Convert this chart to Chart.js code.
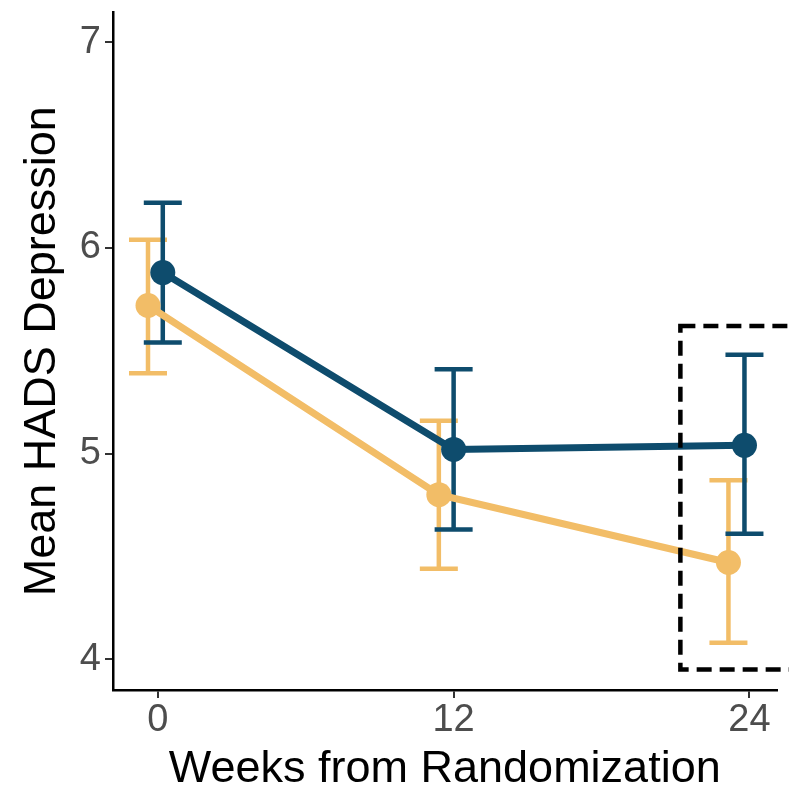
<!DOCTYPE html>
<html>
<head>
<meta charset="utf-8">
<script src="https://cdn.jsdelivr.net/npm/chart.js@4"></script>
<style>
  html, body { margin: 0; padding: 0; background: #fff; }
  #wrap { width: 789px; height: 790px; }
</style>
</head>
<body>
<div id="wrap"><canvas id="chart1" width="789" height="790"></canvas></div>
<script>
const weeks = [0, 12, 24];
const xTicks = [0, 12, 24];
const yTicks = [4, 5, 6, 7];

// group 1 (dark blue)
const blueDodge = [0.2, 0, -0.2];
const blueMean = [5.88, 5.02, 5.04];
const blueLow = [5.54, 4.63, 4.61];
const blueHigh = [6.22, 5.41, 5.48];

// group 2 (orange)
const orangeDodge = [-0.4, -0.6, -0.85];
const orangeMean = [5.72, 4.80, 4.47];
const orangeLow = [5.39, 4.44, 4.08];
const orangeHigh = [6.04, 5.16, 4.87];

// highlighted region around week 24
const boxX = [21.2, 27];
const boxY = [3.95, 5.62];

const blue = '#0e4c6d';
const orange = '#f2bd67';
const tickFont = { family: 'Liberation Sans', size: 38 };
const titleFont = { family: 'Liberation Sans', size: 45 };

function pts(dodge, mean) {
  return weeks.map((w, i) => ({ x: w + dodge[i], y: mean[i] }));
}

const errorBars = {
  id: 'errorBars',
  beforeDatasetsDraw(chart) {
    const { ctx, scales: { x, y } } = chart;
    const groups = [
      [orangeDodge, orangeLow, orangeHigh, orange],
      [blueDodge, blueLow, blueHigh, blue]
    ];
    ctx.save();
    ctx.lineWidth = 4.5;
    groups.forEach(([dodge, lo, hi, col]) => {
      ctx.strokeStyle = col;
      weeks.forEach((w, i) => {
        const px = x.getPixelForValue(w + dodge[i]);
        const y1 = y.getPixelForValue(lo[i]);
        const y2 = y.getPixelForValue(hi[i]);
        ctx.beginPath();
        ctx.moveTo(px, y1); ctx.lineTo(px, y2);
        ctx.moveTo(px - 19, y1); ctx.lineTo(px + 19, y1);
        ctx.moveTo(px - 19, y2); ctx.lineTo(px + 19, y2);
        ctx.stroke();
      });
    });
    ctx.restore();
  },
  afterDraw(chart) {
    const { ctx, scales: { x, y } } = chart;
    const l = x.getPixelForValue(boxX[0]);
    const r = x.getPixelForValue(boxX[1]);
    const t = y.getPixelForValue(boxY[1]);
    const b = y.getPixelForValue(boxY[0]);
    ctx.save();
    ctx.strokeStyle = '#000';
    ctx.lineWidth = 4.5;
    ctx.setLineDash([15, 8]);
    ctx.strokeRect(l, t, r - l, b - t);
    ctx.restore();
  }
};

new Chart(document.getElementById('chart1'), {
  type: 'line',
  data: {
    datasets: [{
      label: 'Group 2',
      data: pts(orangeDodge, orangeMean),
      borderColor: orange,
      backgroundColor: orange,
      borderWidth: 7,
      pointRadius: 12.5,
      pointBorderWidth: 0,
      tension: 0
    }, {
      label: 'Group 1',
      data: pts(blueDodge, blueMean),
      borderColor: blue,
      backgroundColor: blue,
      borderWidth: 7,
      pointRadius: 12.5,
      pointBorderWidth: 0,
      tension: 0
    }]
  },
  options: {
    responsive: false,
    animation: false,
    layout: { padding: { top: 5, right: 9, left: 0, bottom: 0 } },
    plugins: {
      legend: { display: false },
      tooltip: { enabled: false }
    },
    scales: {
      x: {
        type: 'linear',
        min: -1.82,
        max: 25.1,
        afterBuildTicks: s => { s.ticks = xTicks.map(v => ({ value: v })); },
        afterFit: s => { s.height = 100; s.paddingLeft = 0; s.paddingRight = 0; },
        border: { display: true, color: '#000', width: 2.5 },
        grid: { display: true, drawOnChartArea: false, tickLength: 8, color: '#333', lineWidth: 2 },
        ticks: { color: '#4d4d4d', font: tickFont, padding: 0 },
        title: {
          display: true,
          text: 'Weeks from Randomization',
          color: '#000',
          font: titleFont,
          padding: { top: 6, bottom: -7 }
        }
      },
      y: {
        min: 3.85,
        max: 7.145,
        afterBuildTicks: s => { s.ticks = yTicks.map(v => ({ value: v })); },
        afterFit: s => { s.width = 113; s.paddingTop = 0; s.paddingBottom = 0; },
        border: { display: true, color: '#000', width: 2.5 },
        grid: { display: true, drawOnChartArea: false, tickLength: 8, color: '#333', lineWidth: 2 },
        ticks: { color: '#4d4d4d', font: tickFont, padding: 4 },
        title: {
          display: true,
          text: 'Mean HADS Depression',
          color: '#000',
          font: titleFont,
          padding: { top: 16, bottom: 0 }
        }
      }
    }
  },
  plugins: [errorBars]
});
</script>
</body>
</html>
